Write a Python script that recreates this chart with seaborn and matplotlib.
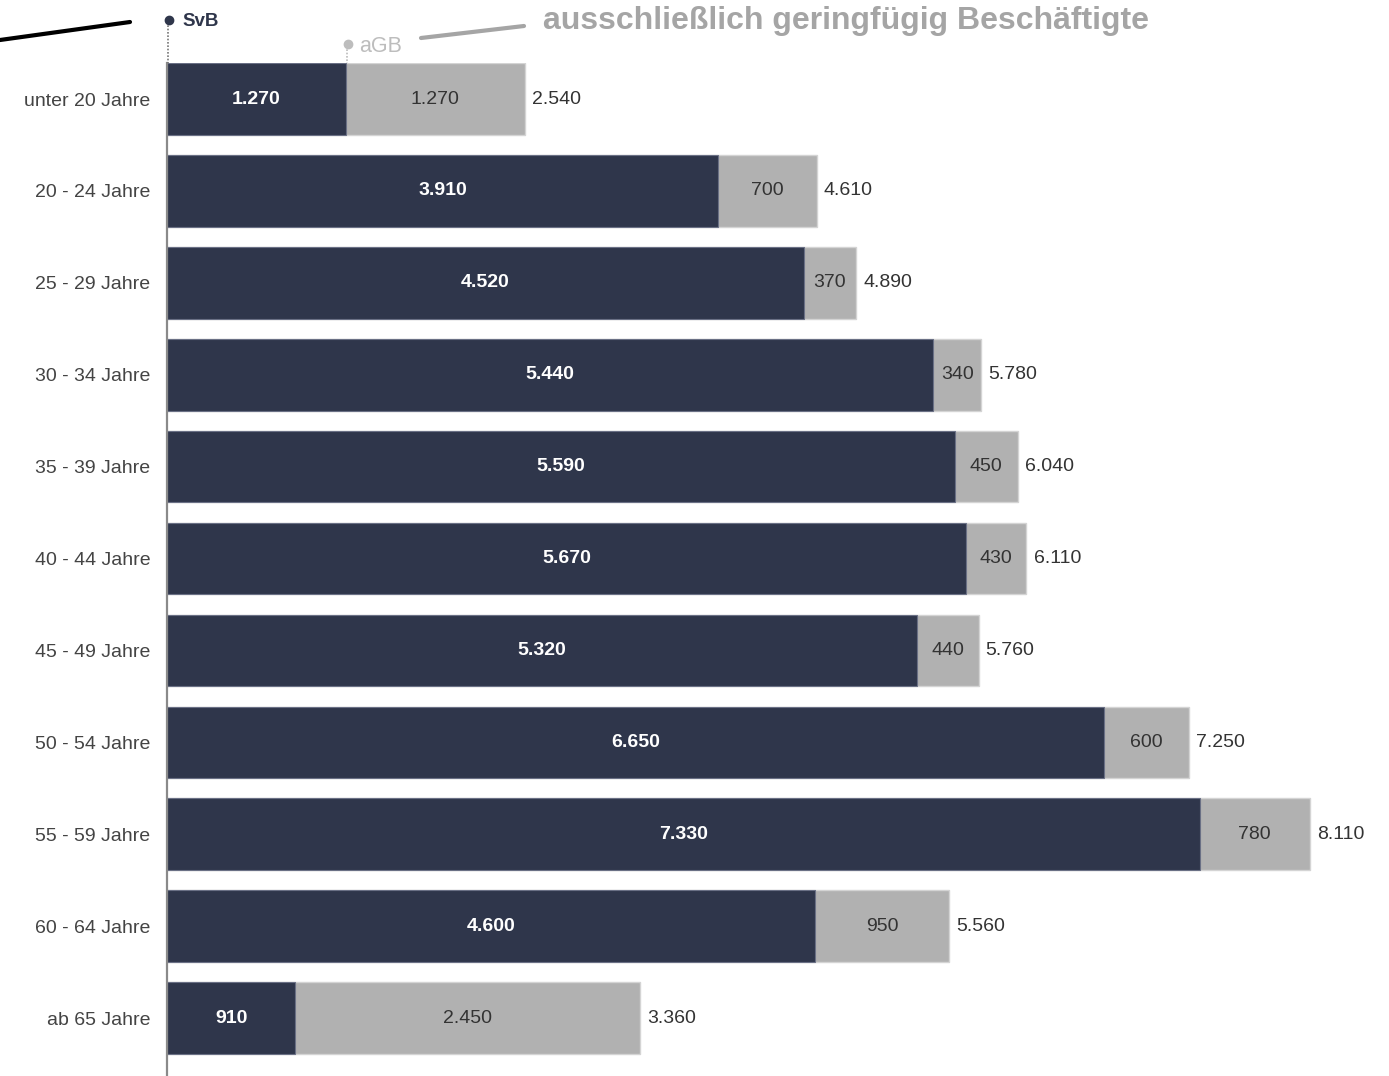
import numpy as np
import pandas as pd
import seaborn as sns
import matplotlib.pyplot as plt
from matplotlib.lines import Line2D

# Beschäftigte nach Altersgruppen
groups = ['unter 20 Jahre', '20 - 24 Jahre', '25 - 29 Jahre', '30 - 34 Jahre',
          '35 - 39 Jahre', '40 - 44 Jahre', '45 - 49 Jahre', '50 - 54 Jahre',
          '55 - 59 Jahre', '60 - 64 Jahre', 'ab 65 Jahre']
svb = [1270, 3910, 4520, 5440, 5590, 5670, 5320, 6650, 7330, 4600, 910]
agb = [1270, 700, 370, 340, 450, 430, 440, 600, 780, 950, 2450]
totals = [2540, 4610, 4890, 5780, 6040, 6110, 5760, 7250, 8110, 5560, 3360]

DARK = '#2f364b'
GREY = '#b1b1b1'


def fmt(v):
    return f'{v:,}'.replace(',', '.')


sns.set_theme(style='white')
plt.rcParams['font.family'] = ['Liberation Sans', 'DejaVu Sans']

df = pd.DataFrame({'group': groups, 'svb': svb, 'agb': agb})
df['sum'] = np.array(svb) + np.array(agb)

W, H = 1389, 1076
fig = plt.figure(figsize=(W / 100, H / 100), dpi=100)
ax = fig.add_axes([167 / W, 0, 1 - 167 / W, 1 - 63 / H])

sns.barplot(data=df, y='group', x='sum', color=GREY, width=0.78, orient='h',
            edgecolor='#d4d4d4', linewidth=1, ax=ax, saturation=1)
sns.barplot(data=df, y='group', x='svb', color=DARK, width=0.78, orient='h',
            edgecolor='#6a7085', linewidth=0.8, ax=ax, saturation=1)

ax.set_xlim(0, (W - 167) / 0.1409)
ax.set_ylim(10.63, -0.392)
ax.set_xlabel('')
ax.set_ylabel('')
ax.set_xticks([])
for s in ['top', 'right', 'bottom']:
    ax.spines[s].set_visible(False)
ax.spines['left'].set_color('#8a8a8a')
ax.spines['left'].set_linewidth(1.6)
ax.tick_params(axis='y', length=0, pad=12, labelsize=14, labelcolor='#444444')

for i in range(len(groups)):
    ax.text(svb[i] / 2, i, fmt(svb[i]), ha='center', va='center',
            color='white', fontsize=14, fontweight='bold')
    ax.text(svb[i] + agb[i] / 2, i, fmt(agb[i]), ha='center', va='center',
            color='#333333', fontsize=14)
    ax.text(df['sum'][i] + 50, i, fmt(totals[i]), ha='left', va='center',
            color='#333333', fontsize=14)

# Legende oben
fx = lambda px: px / W
fy = lambda py: 1 - py / H
fig.add_artist(Line2D([fx(168), fx(168)], [fy(22), fy(63)], color='#777777',
                      lw=1.2, ls=(0, (1, 1))))
fig.add_artist(Line2D([fx(169)], [fy(20)], marker='o', ms=6, color=DARK))
fig.text(fx(182), fy(21), 'SvB', color=DARK, fontsize=13.5, fontweight='bold',
         va='center')
fig.add_artist(Line2D([fx(347), fx(347)], [fy(46), fy(63)], color='#bbbbbb',
                      lw=1.2, ls=(0, (1, 1))))
fig.add_artist(Line2D([fx(348)], [fy(44)], marker='o', ms=6, color='#bdbdbd'))
fig.text(fx(359), fy(46), 'aGB', color='#bdbdbd', fontsize=15.5, va='center')

fig.add_artist(Line2D([fx(0), fx(130)], [fy(40), fy(22)], color='black', lw=3))
fig.add_artist(Line2D([fx(421), fx(524)], [fy(38), fy(26)], color='#a5a5a5', lw=3))
fig.text(fx(543), fy(21), 'ausschließlich geringfügig Beschäftigte', color='#a5a5a5',
         fontsize=23, fontweight='bold', va='center')

plt.savefig('out.png', dpi=100)
